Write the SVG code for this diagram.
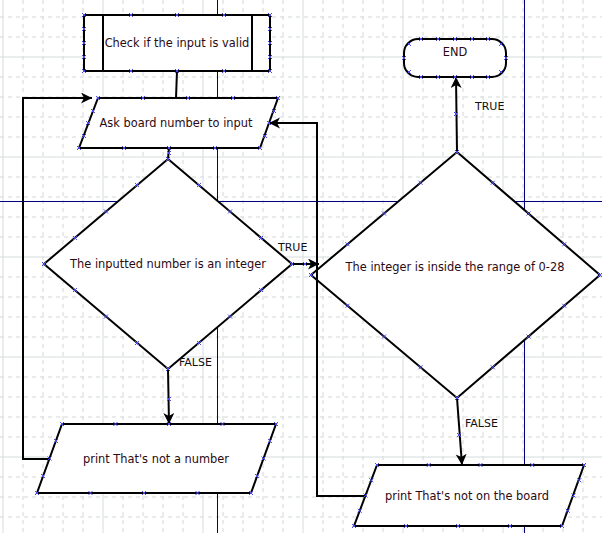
<svg xmlns="http://www.w3.org/2000/svg" xmlns:xlink="http://www.w3.org/1999/xlink" width="602" height="533" viewBox="0 0 602 533">
<style>
.gd{stroke:#d4d8d8;stroke-width:1;stroke-dasharray:4,4;fill:none}
.gs{stroke:#d6dcdc;stroke-width:1;fill:none}
.pg{stroke:#000080;stroke-width:1;fill:none}
.sh{fill:#ffffff;stroke:#000000;stroke-width:2}
.cn{fill:none;stroke:#000000;stroke-width:2}
.ar{marker-end:url(#arrow)}
.tx{font-family:"DejaVu Sans",Verdana,sans-serif;font-size:11.4px;fill:#2b0a14;text-anchor:middle}
.lb{font-family:"DejaVu Sans",Verdana,sans-serif;font-size:11px;fill:#111111}
.mk{stroke:#4848e8;stroke-width:1;fill:none}
</style>
<defs>
<marker id="arrow" markerUnits="userSpaceOnUse" markerWidth="14" markerHeight="12" refX="11" refY="5.5" orient="auto">
<path d="M0,0 L11,5.5 L0,11 L3,5.5 Z" fill="#000000"/>
</marker>
<path id="m" class="mk" d="M-2,-2 L2,2 M-2,2 L2,-2"/>
</defs>
<rect width="602" height="533" fill="#ffffff"/>
<g id="grid">
<path class="gd" d="M23,0V533M43,0V533M63,0V533M83,0V533M123,0V533M143,0V533M163,0V533M183,0V533M223,0V533M243,0V533M263,0V533M283,0V533M323,0V533M343,0V533M363,0V533M383,0V533M423,0V533M443,0V533M463,0V533M483,0V533M523,0V533M543,0V533M563,0V533M583,0V533"/>
<path class="gd" d="M0,17H602M0,37H602M0,77H602M0,97H602M0,117H602M0,137H602M0,177H602M0,197H602M0,217H602M0,237H602M0,277H602M0,297H602M0,317H602M0,337H602M0,377H602M0,397H602M0,417H602M0,437H602M0,477H602M0,497H602M0,517H602"/>
<path class="gs" d="M3,0V533M103,0V533M203,0V533M303,0V533M403,0V533M503,0V533M0,57H602M0,157H602M0,257H602M0,357H602M0,457H602"/>
<path class="pg" d="M217.5,0V533M524.5,0V533M0,201.5H602"/>
</g>
<g id="n_check">
<rect class="sh" x="84" y="15" width="186" height="56"/>
<path class="cn" d="M103,15V71M252,15V71"/>
<text class="tx" x="177" y="47">Check if the input is valid</text>
</g>
<g id="n_ask">
<polygon class="sh" points="98,98 278,98 260,148 79,148"/>
<text class="tx" x="176" y="127">Ask board number to input</text>
</g>
<g id="n_isint">
<polygon class="sh" points="168,159 292,264 168,369 44,264"/>
<text class="tx" x="168" y="268">The inputted number is an integer</text>
</g>
<g id="n_notnum">
<polygon class="sh" points="62,424 276,424 251,493 37,493"/>
<text class="tx" x="156" y="463">print That's not a number</text>
</g>
<g id="n_range">
<polygon class="sh" points="457,152 600,275 457,398 311,275"/>
<text class="tx" x="455" y="271">The integer is inside the range of 0-28</text>
</g>
<g id="n_end">
<rect class="sh" x="404" y="39" width="102" height="38" rx="14" ry="14"/>
<text class="tx" x="455" y="56">END</text>
</g>
<g id="n_notboard">
<polygon class="sh" points="377,465 584,465 562,526 354,526"/>
<text class="tx" x="467" y="500">print That's not on the board</text>
</g>
<g id="connectors">
<path class="cn" d="M177,71L176,98"/>
<path class="cn" d="M169,148L168,159"/>
<path class="cn ar" d="M292,264L319,264"/>
<path class="cn ar" d="M168,369L169,424"/>
<path class="cn ar" d="M49,459H23V98H92"/>
<path class="cn ar" d="M365,496H317V123H269"/>
<path class="cn ar" d="M457,152L456,77"/>
<path class="cn ar" d="M457,398L462,465"/>
<text class="lb" x="278" y="251">TRUE</text>
<text class="lb" x="179" y="366">FALSE</text>
<text class="lb" x="475" y="110">TRUE</text>
<text class="lb" x="465" y="427">FALSE</text>
</g>
<g id="marks">
<use xlink:href="#m" x="84" y="15"/><use xlink:href="#m" x="131" y="15"/><use xlink:href="#m" x="177" y="15"/><use xlink:href="#m" x="224" y="15"/><use xlink:href="#m" x="270" y="15"/>
<use xlink:href="#m" x="84" y="71"/><use xlink:href="#m" x="131" y="71"/><use xlink:href="#m" x="177" y="71"/><use xlink:href="#m" x="224" y="71"/><use xlink:href="#m" x="270" y="71"/>
<use xlink:href="#m" x="84" y="29"/><use xlink:href="#m" x="84" y="43"/><use xlink:href="#m" x="84" y="57"/>
<use xlink:href="#m" x="270" y="29"/><use xlink:href="#m" x="270" y="43"/><use xlink:href="#m" x="270" y="57"/>
<use xlink:href="#m" x="98" y="98"/><use xlink:href="#m" x="143" y="98"/><use xlink:href="#m" x="188" y="98"/><use xlink:href="#m" x="233" y="98"/><use xlink:href="#m" x="278" y="98"/>
<use xlink:href="#m" x="79" y="148"/><use xlink:href="#m" x="124" y="148"/><use xlink:href="#m" x="169" y="148"/><use xlink:href="#m" x="215" y="148"/><use xlink:href="#m" x="260" y="148"/>
<use xlink:href="#m" x="84" y="136"/><use xlink:href="#m" x="88" y="123"/><use xlink:href="#m" x="93" y="111"/>
<use xlink:href="#m" x="265" y="136"/><use xlink:href="#m" x="269" y="123"/><use xlink:href="#m" x="274" y="111"/>
<use xlink:href="#m" x="169" y="153"/>
<use xlink:href="#m" x="168" y="159"/><use xlink:href="#m" x="292" y="264"/><use xlink:href="#m" x="168" y="369"/><use xlink:href="#m" x="44" y="264"/>
<use xlink:href="#m" x="199" y="185"/><use xlink:href="#m" x="230" y="211.5"/><use xlink:href="#m" x="261" y="238"/>
<use xlink:href="#m" x="261" y="290"/><use xlink:href="#m" x="230" y="316.5"/><use xlink:href="#m" x="199" y="343"/>
<use xlink:href="#m" x="137" y="343"/><use xlink:href="#m" x="106" y="316.5"/><use xlink:href="#m" x="75" y="290"/>
<use xlink:href="#m" x="75" y="238"/><use xlink:href="#m" x="106" y="211.5"/><use xlink:href="#m" x="137" y="185"/>
<use xlink:href="#m" x="305" y="264"/><use xlink:href="#m" x="169" y="399"/>
<use xlink:href="#m" x="62" y="424"/><use xlink:href="#m" x="115.5" y="424"/><use xlink:href="#m" x="169" y="424"/><use xlink:href="#m" x="222.5" y="424"/><use xlink:href="#m" x="276" y="424"/>
<use xlink:href="#m" x="37" y="493"/><use xlink:href="#m" x="90.5" y="493"/><use xlink:href="#m" x="144" y="493"/><use xlink:href="#m" x="197.5" y="493"/><use xlink:href="#m" x="251" y="493"/>
<use xlink:href="#m" x="43" y="476"/><use xlink:href="#m" x="49.5" y="458.5"/><use xlink:href="#m" x="56" y="441"/>
<use xlink:href="#m" x="257" y="476"/><use xlink:href="#m" x="263.5" y="458.5"/><use xlink:href="#m" x="270" y="441"/>
<use xlink:href="#m" x="457" y="152"/><use xlink:href="#m" x="600" y="275"/><use xlink:href="#m" x="457" y="398"/><use xlink:href="#m" x="311" y="275"/>
<use xlink:href="#m" x="492.75" y="182.75"/><use xlink:href="#m" x="528.5" y="213.5"/><use xlink:href="#m" x="564.25" y="244.25"/>
<use xlink:href="#m" x="564.25" y="305.75"/><use xlink:href="#m" x="528.5" y="336.5"/><use xlink:href="#m" x="492.75" y="367.25"/>
<use xlink:href="#m" x="420.5" y="367.25"/><use xlink:href="#m" x="384" y="336.5"/><use xlink:href="#m" x="347.5" y="305.75"/>
<use xlink:href="#m" x="347.5" y="244.25"/><use xlink:href="#m" x="384" y="213.5"/><use xlink:href="#m" x="420.5" y="182.75"/>
<use xlink:href="#m" x="456" y="114"/><use xlink:href="#m" x="459" y="435"/>
<use xlink:href="#m" x="421" y="39"/><use xlink:href="#m" x="438" y="39"/><use xlink:href="#m" x="455" y="39"/><use xlink:href="#m" x="472" y="39"/><use xlink:href="#m" x="488" y="39"/>
<use xlink:href="#m" x="421" y="77"/><use xlink:href="#m" x="438" y="77"/><use xlink:href="#m" x="455" y="77"/><use xlink:href="#m" x="472" y="77"/><use xlink:href="#m" x="488" y="77"/>
<use xlink:href="#m" x="404" y="58"/><use xlink:href="#m" x="506" y="58"/><use xlink:href="#m" x="409" y="44"/><use xlink:href="#m" x="409" y="72"/><use xlink:href="#m" x="501" y="44"/><use xlink:href="#m" x="501" y="72"/>
<use xlink:href="#m" x="377" y="465"/><use xlink:href="#m" x="428.75" y="465"/><use xlink:href="#m" x="480.5" y="465"/><use xlink:href="#m" x="532.25" y="465"/><use xlink:href="#m" x="584" y="465"/>
<use xlink:href="#m" x="354" y="526"/><use xlink:href="#m" x="406" y="526"/><use xlink:href="#m" x="458" y="526"/><use xlink:href="#m" x="510" y="526"/><use xlink:href="#m" x="562" y="526"/>
<use xlink:href="#m" x="359.75" y="510.75"/><use xlink:href="#m" x="365.5" y="495.5"/><use xlink:href="#m" x="371.25" y="480.25"/>
<use xlink:href="#m" x="567.75" y="510.75"/><use xlink:href="#m" x="573.5" y="495.5"/><use xlink:href="#m" x="579.25" y="480.25"/>
</g>
</svg>
